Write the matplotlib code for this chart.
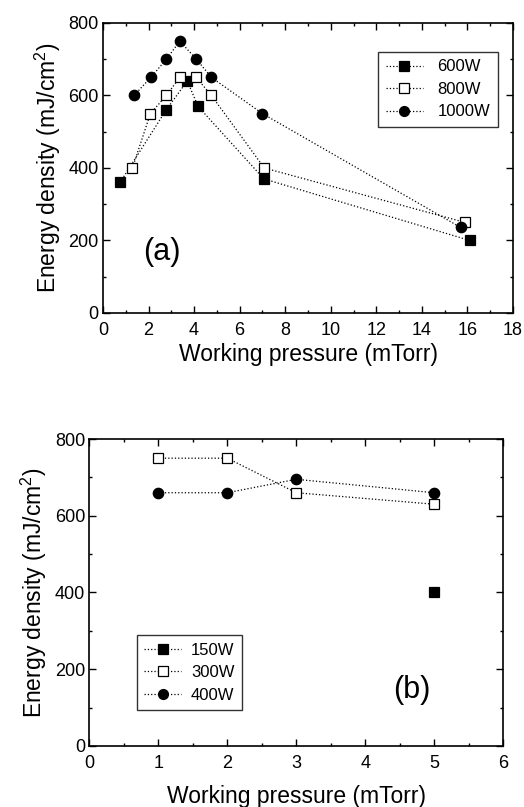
import matplotlib
matplotlib.use("Agg")
import matplotlib.pyplot as plt
from matplotlib.ticker import MultipleLocator

plt.rcParams['font.family'] = ['Liberation Sans', 'DejaVu Sans']
plt.rcParams['mathtext.fontset'] = 'custom'
plt.rcParams['mathtext.rm'] = 'Liberation Sans'

# Panel (a)
a_600_x = [0.75, 2.77, 3.7, 4.17, 7.06, 16.1]
a_600_y = [360, 560, 640, 570, 370, 200]
a_800_x = [1.29, 2.08, 2.78, 3.37, 4.09, 4.76, 7.08, 15.88]
a_800_y = [400, 550, 600, 650, 650, 600, 400, 250]
a_1000_x = [1.36, 2.1, 2.78, 3.37, 4.1, 4.76, 7.0, 15.7]
a_1000_y = [600, 650, 700, 750, 700, 650, 550, 236]

# Panel (b)
b_150_x = [5]
b_150_y = [400]
b_300_x = [1, 2, 3, 5]
b_300_y = [750, 750, 660, 630]
b_400_x = [1, 2, 3, 5]
b_400_y = [660, 660, 695, 660]

fig = plt.figure(figsize=(5.24, 8.07), dpi=100)
axA = fig.add_axes([0.1966, 0.6122, 0.979 - 0.1966, 0.9715 - 0.6122])
axB = fig.add_axes([0.1704, 0.0756, 0.9605 - 0.1704, 0.456 - 0.0756])

line_kw = dict(color='black', linestyle=':', linewidth=0.9, markersize=7.5,
               markeredgewidth=0.9)

def style(ax):
    ax.tick_params(which='both', direction='in', top=True, right=True,
                   labelsize=13, width=1.0)
    ax.tick_params(which='major', length=5, pad=3)
    ax.tick_params(axis='x', which='major', pad=6.5)
    ax.tick_params(which='minor', length=2.5)
    for s in ax.spines.values():
        s.set_linewidth(1.2)

# (a)
axA.plot(a_600_x, a_600_y, marker='s', mfc='black', mec='black', label='600W', **line_kw)
axA.plot(a_800_x, a_800_y, marker='s', mfc='white', mec='black', label='800W', **line_kw)
axA.plot(a_1000_x, a_1000_y, marker='o', mfc='black', mec='black', label='1000W', **line_kw)
axA.set_xlim(0, 18)
axA.set_ylim(0, 800)
axA.xaxis.set_major_locator(MultipleLocator(2))
axA.xaxis.set_minor_locator(MultipleLocator(1))
axA.yaxis.set_major_locator(MultipleLocator(200))
axA.yaxis.set_minor_locator(MultipleLocator(100))
style(axA)
axA.set_xlabel('Working pressure (mTorr)', fontsize=16.5, labelpad=3)
axA.set_ylabel('Energy density (mJ/cm$^2$)', fontsize=16.5, labelpad=4)
axA.text(2.59, 168, '(a)', fontsize=22, ha='center', va='center')
legA = axA.legend(loc='upper right', bbox_to_anchor=(0.963, 0.9), fontsize=12,
                  frameon=True, fancybox=False, edgecolor='black',
                  handlelength=2.2, handletextpad=0.9, labelspacing=0.45,
                  borderpad=0.45, borderaxespad=0, markerscale=0.95)
legA.get_frame().set_linewidth(1.0)
for t in legA.get_texts():
    t.set_ha('right')

# (b)
axB.plot(b_150_x, b_150_y, marker='s', mfc='black', mec='black', label='150W', **line_kw)
axB.plot(b_300_x, b_300_y, marker='s', mfc='white', mec='black', label='300W', **line_kw)
axB.plot(b_400_x, b_400_y, marker='o', mfc='black', mec='black', label='400W', **line_kw)
axB.set_xlim(0, 6)
axB.set_ylim(0, 800)
axB.xaxis.set_major_locator(MultipleLocator(1))
axB.xaxis.set_minor_locator(MultipleLocator(0.5))
axB.yaxis.set_major_locator(MultipleLocator(200))
axB.yaxis.set_minor_locator(MultipleLocator(100))
style(axB)
axB.set_xlabel('Working pressure (mTorr)', fontsize=16.5, labelpad=9)
axB.set_ylabel('Energy density (mJ/cm$^2$)', fontsize=16.5, labelpad=4)
axB.text(4.68, 146, '(b)', fontsize=22, ha='center', va='center')
legB = axB.legend(loc='lower left', bbox_to_anchor=(0.115, 0.117), fontsize=12,
                  frameon=True, fancybox=False, edgecolor='black',
                  handlelength=2.2, handletextpad=0.6, labelspacing=0.45,
                  borderpad=0.45, borderaxespad=0, markerscale=0.95)
legB.get_frame().set_linewidth(1.0)

fig.savefig('out.png', dpi=100)
